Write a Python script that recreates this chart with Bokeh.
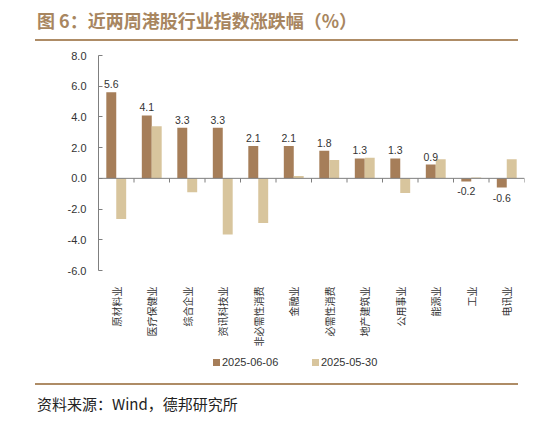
import math
from bokeh.plotting import figure
from bokeh.models import (ColumnDataSource, FactorRange, Range1d, Span,
                          FixedTicker, CustomJSTickFormatter, Div)
from bokeh.layouts import column
from bokeh.transform import dodge
from bokeh.core.properties import value
from bokeh.embed import file_html
from bokeh.resources import INLINE

categories = ["原材料业", "医疗保健业", "综合企业", "资讯科技业", "非必需性消费", "金融业",
              "必需性消费", "地产建筑业", "公用事业", "能源业", "工业", "电讯业"]
s_0606 = [5.6, 4.1, 3.3, 3.3, 2.1, 2.1, 1.8, 1.3, 1.3, 0.9, -0.2, -0.6]
s_0530 = [-2.65, 3.4, -0.9, -3.65, -2.9, 0.15, 1.2, 1.35, -0.95, 1.25, 0.05, 1.25]
label_0606 = ["5.6", "4.1", "3.3", "3.3", "2.1", "2.1", "1.8", "1.3", "1.3", "0.9", "-0.2", "-0.6"]
y_ticks = [-6, -4, -2, 0, 2, 4, 6, 8]
series_names = ["2025-06-06", "2025-05-30"]
title_text = "图 6：近两周港股行业指数涨跌幅（%）"
source_text = "资料来源：Wind，德邦研究所"

DARK = "#a67e59"
LIGHT = "#d8c59d"
RULE = "#ae8c66"
FONT = "Liberation Sans"
CJK = "Noto Sans CJK SC"

src = ColumnDataSource(dict(cat=categories, a=s_0606, b=s_0530))
pos_idx = [i for i, v in enumerate(s_0606) if v >= 0]
neg_idx = [i for i, v in enumerate(s_0606) if v < 0]
src_pos = ColumnDataSource(dict(cat=[categories[i] for i in pos_idx],
                                y=[s_0606[i] for i in pos_idx],
                                lab=[label_0606[i] for i in pos_idx]))
src_neg = ColumnDataSource(dict(cat=[categories[i] for i in neg_idx],
                                y=[s_0606[i] for i in neg_idx],
                                lab=[label_0606[i] for i in neg_idx]))
src_ticks = ColumnDataSource(dict(cat=categories, y0=[0] * len(categories),
                                  y1=[-0.27] * len(categories)))

p = figure(width=540, height=309, x_range=FactorRange(*categories, range_padding=0),
           y_range=Range1d(-6, 8), output_backend="svg", toolbar_location=None,
           min_border_left=98, min_border_right=16, min_border_top=14, min_border_bottom=80)
p.outline_line_color = None
p.xgrid.visible = False
p.ygrid.visible = False

bw = 0.28
p.vbar(x=dodge("cat", -bw / 2, range=p.x_range), top="a", width=bw, source=src,
       fill_color=DARK, line_color=None)
p.vbar(x=dodge("cat", bw / 2, range=p.x_range), top="b", width=bw, source=src,
       fill_color=LIGHT, line_color=None)

# zero line with category boundary ticks
p.add_layout(Span(location=0, dimension="width", line_color="#7f7f7f", line_width=1))
p.segment(x0=dodge("cat", 0.5, range=p.x_range), x1=dodge("cat", 0.5, range=p.x_range),
          y0="y0", y1="y1", source=src_ticks, line_color="#7f7f7f", line_width=1)

p.text(x=dodge("cat", -bw / 2, range=p.x_range), y="y", text="lab", source=src_pos,
       text_align="center", text_baseline="bottom", y_offset=-4,
       text_font=value(FONT), text_font_size="10.5px", text_color="#333333")
p.text(x=dodge("cat", -bw / 2, range=p.x_range), y="y", text="lab", source=src_neg,
       text_align="center", text_baseline="top", y_offset=6,
       text_font=value(FONT), text_font_size="10.5px", text_color="#333333")

# y axis
p.yaxis.ticker = FixedTicker(ticks=y_ticks)
p.yaxis.formatter = CustomJSTickFormatter(code="return tick.toFixed(1);")
p.yaxis.major_tick_in = 4
p.yaxis.major_tick_out = 0
p.yaxis.minor_tick_line_color = None
p.yaxis.axis_line_color = "#7f7f7f"
p.yaxis.major_tick_line_color = "#7f7f7f"
p.yaxis.major_label_text_font = FONT
p.yaxis.major_label_text_font_size = "11px"
p.yaxis.major_label_text_color = "#333333"
p.yaxis.major_label_standoff = 12

# x axis (labels only)
p.xaxis.axis_line_color = None
p.xaxis.major_tick_line_color = None
p.xaxis.minor_tick_line_color = None
p.xaxis.major_label_orientation = math.pi / 2
p.xaxis.major_label_text_font = CJK
p.xaxis.major_label_text_font_size = "10px"
p.xaxis.major_label_text_color = "#333333"
p.xaxis.major_label_standoff = 10

# legend strip as HTML
legend_html = (
    "<div style=\"position:relative;width:540px;height:33px;font-family:'%s';"
    "font-size:11px;color:#333333;white-space:nowrap;\">"
    "<span style=\"position:absolute;left:213px;top:9px;width:7px;height:7px;background:%s;\"></span>"
    "<span style=\"position:absolute;left:222px;top:5px;line-height:14px;\">%s</span>"
    "<span style=\"position:absolute;left:312px;top:9px;width:7px;height:7px;background:%s;\"></span>"
    "<span style=\"position:absolute;left:321px;top:5px;line-height:14px;\">%s</span>"
    "</div>") % (FONT, DARK, series_names[0], LIGHT, series_names[1])
legend_div = Div(text=legend_html, width=540, height=33, margin=(0, 0, 0, 0))

title = Div(text=("<div style=\"padding-left:37px;height:39px;font-family:'%s';font-weight:bold;"
                  "font-size:18px;color:#a88660;line-height:40px;white-space:nowrap;\">%s</div>")
                 % (CJK, title_text),
            width=540, height=39, margin=(0, 0, 0, 0))
rule1 = Div(text="", width=483, height=2, margin=(0, 0, 0, 35),
            styles={"background-color": RULE})
rule2 = Div(text="", width=483, height=2, margin=(0, 0, 0, 35),
            styles={"background-color": RULE})
source_div = Div(text=("<div style=\"padding-left:37px;padding-top:10px;font-family:'%s';"
                       "font-size:15px;color:#222222;line-height:18px;white-space:nowrap;\">%s</div>")
                      % (CJK, source_text),
                 width=540, height=34, margin=(0, 0, 0, 0))

layout = column(title, rule1, p, legend_div, rule2, source_div, spacing=0)
open("out.html", "w").write(file_html(layout, INLINE))
